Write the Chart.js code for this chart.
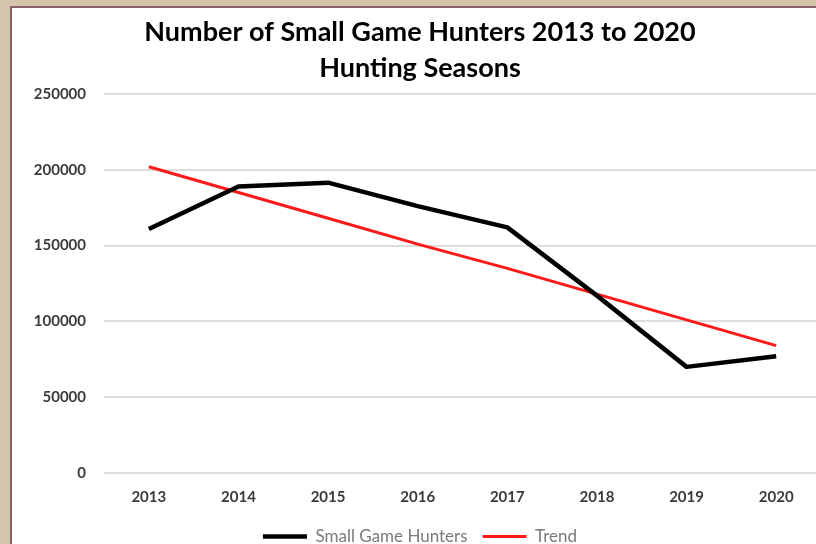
<!DOCTYPE html>
<html>
<head>
<meta charset="utf-8">
<script src="https://cdn.jsdelivr.net/npm/chart.js@4"></script>
<style>
  html, body { margin: 0; padding: 0; width: 816px; height: 544px; overflow: hidden; background: #d6c5aa; }
  #panel { position: absolute; left: 10px; top: 6px; width: 820px; height: 560px; background: #fff; border-left: 2px solid #8a5f68; border-top: 2px solid #8a5f68; }
  #myChart { position: absolute; left: 5px; top: 0; }
</style>
</head>
<body>
<div id="panel"></div>
<canvas id="myChart" width="830" height="555"></canvas>
<script>
const years = ["2013", "2014", "2015", "2016", "2017", "2018", "2019", "2020"];
const hunters = [161000, 189000, 191500, 176000, 162000, 117000, 70000, 77000];
const trend = [202000, 185000, 168000, 151000, 135000, 118000, 101000, 84000];
const yTicks = [0, 50000, 100000, 150000, 200000, 250000];

const ctx = document.getElementById('myChart').getContext('2d');
const myChart = new Chart(ctx, {
  type: 'line',
  data: {
    labels: years,
    datasets: [{
      label: 'Small Game Hunters',
      data: hunters,
      borderColor: '#000000',
      backgroundColor: '#000000',
      borderWidth: 4.5,
      pointRadius: 0,
      tension: 0,
      borderJoinStyle: 'round'
    }, {
      label: 'Trend',
      data: trend,
      borderColor: '#ff1a1a',
      backgroundColor: '#ff1a1a',
      borderWidth: 3,
      pointRadius: 0,
      tension: 0
    }]
  },
  options: {
    responsive: false,
    animation: false,
    // left/right padding equal so title and legend stay centred
    layout: { padding: { left: 14, right: 14, top: 0, bottom: 0 } },
    plugins: {
      title: {
        display: true,
        text: ['Number of Small Game Hunters 2013 to 2020', 'Hunting Seasons'],
        font: { family: 'Lato', size: 27, weight: 'bold', lineHeight: 1.333 },
        color: '#000000',
        padding: { top: 14, bottom: 8 }
      },
      legend: {
        position: 'bottom',
        labels: {
          usePointStyle: true,
          pointStyle: 'line',
          pointStyleWidth: 44,
          font: { family: 'Lato', size: 17 },
          color: '#7a7a7a',
          padding: 15
        }
      },
      tooltip: { enabled: false }
    },
    scales: {
      x: {
        offset: true,
        grid: { display: false },
        border: { display: false },
        ticks: {
          font: { family: 'Lato', size: 15, weight: 'bold' },
          color: '#3a3a3a',
          padding: 7
        }
      },
      y: {
        min: 0,
        max: 250000,
        afterBuildTicks: (axis) => { axis.ticks = yTicks.map(v => ({ value: v })); },
        afterFit: (axis) => { axis.width = 85; },
        grid: { color: '#dcdcdc', lineWidth: 2, drawTicks: false },
        border: { display: false },
        ticks: {
          font: { family: 'Lato', size: 15, weight: 'bold' },
          color: '#3a3a3a',
          padding: 18,
          callback: (v) => String(v)
        }
      }
    }
  }
});
</script>
</body>
</html>
